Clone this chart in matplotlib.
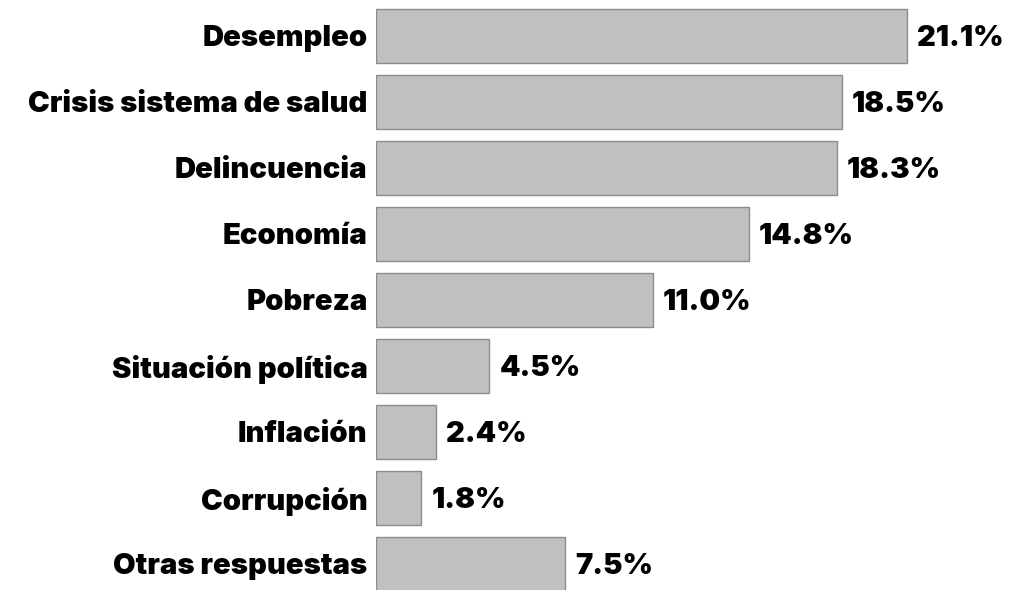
import matplotlib.pyplot as plt

categorias = ["Desempleo", "Crisis sistema de salud", "Delincuencia", "Economía",
              "Pobreza", "Situación política", "Inflación", "Corrupción",
              "Otras respuestas"]
valores = [21.1, 18.5, 18.3, 14.8, 11.0, 4.5, 2.4, 1.8, 7.5]
etiquetas = ["21.1%", "18.5%", "18.3%", "14.8%", "11.0%", "4.5%", "2.4%", "1.8%", "7.5%"]

plt.rcParams['font.family'] = ['Inter', 'DejaVu Sans']

fig = plt.figure(figsize=(10.13, 5.9), dpi=100)
ax = fig.add_axes([376/1013, 0, 1 - 376/1013, 1])

pos = list(range(len(categorias)))
ax.barh(pos, valores, height=0.82, color="#c0c0c0", edgecolor="#8c8c8c", linewidth=1)

for p, v, t in zip(pos, valores, etiquetas):
    ax.text(v + 0.4, p, t, va="center_baseline", ha="left", fontsize=21, fontweight=900)

ax.set_yticks(pos)
ax.set_yticklabels(categorias, fontsize=21, fontweight=900, va="center_baseline")
ax.tick_params(axis="y", length=0, pad=6)
ax.set_xticks([])
ax.set_xlim(0, 637/25.17)
ax.set_ylim(8 + 26/66, -36/66)
for s in ax.spines.values():
    s.set_visible(False)

fig.savefig("out.png", dpi=100)
